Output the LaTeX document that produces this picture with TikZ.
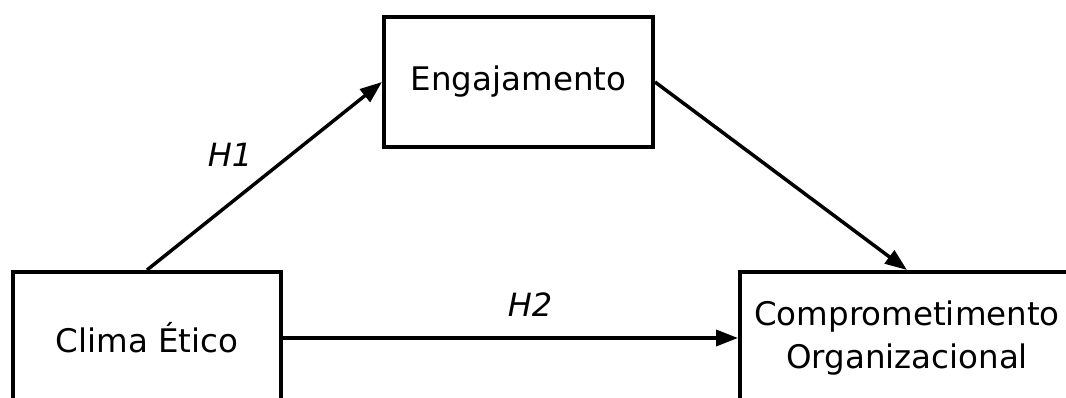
\documentclass[tikz,border=0pt]{standalone}
\usepackage{fontspec}
\setmainfont{DejaVu Sans}
\usetikzlibrary{arrows.meta}
\begin{document}
\begin{tikzpicture}[x=1pt,y=-1pt,
  box/.style={draw,line width=4pt,rectangle,inner sep=0pt,align=center,
    font=\fontsize{32.5}{43}\selectfont},
  conn/.style={line width=3.5pt,-{Triangle[length=22pt,width=16pt]}},
  hyp/.style={font=\fontsize{32}{38}\selectfont\itshape}]
\useasboundingbox (0,0) rectangle (1066,398);
\clip (0,0) rectangle (1066,398);
\node[box,minimum width=268pt,minimum height=132pt] (clima) at (147,338) {Clima Ético};
\node[box,minimum width=269pt,minimum height=130pt] (eng) at (518.5,82) {Engajamento};
\node[box,minimum width=334pt,minimum height=132pt] (comp) at (907,338) {Comprometimento\\Organizacional};
\draw[conn] (clima.north) -- (eng.west);
\draw[conn] (eng.east) -- (comp.north);
\draw[conn] (clima.east) -- (comp.west);
\node[hyp] (h1) at (230,155) {H1};
\node[hyp] (h2) at (530,305) {H2};
\end{tikzpicture}
\end{document}
